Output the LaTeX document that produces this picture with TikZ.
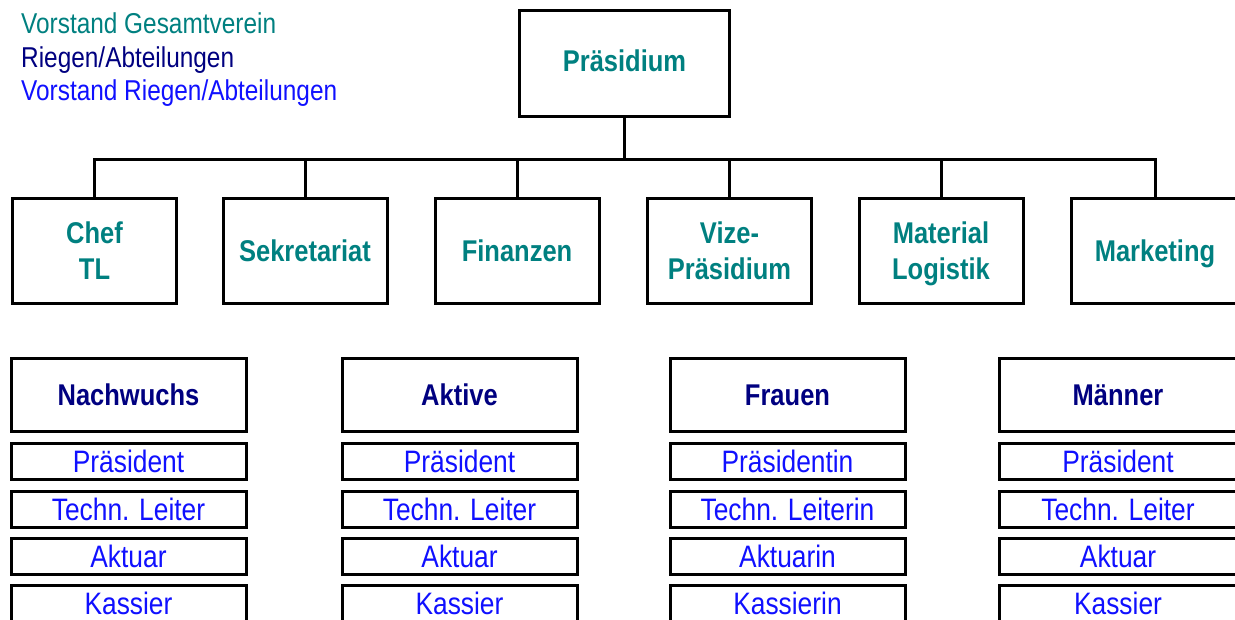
\documentclass[tikz,border=0pt]{standalone}
\usepackage{fontspec}
\setmainfont{Liberation Sans}[FakeStretch=0.85]
\definecolor{tealc}{RGB}{0,128,128}
\definecolor{navyc}{RGB}{0,0,128}
\definecolor{bluec}{RGB}{16,16,255}
\tikzset{
  box/.style={draw=black, line width=3pt, inner sep=0pt, align=center},
  orgbox/.style={box, minimum width=164pt, minimum height=105pt,
    font=\fontsize{30}{36}\selectfont\bfseries, text=tealc},
  oneline/.style={text height=21.5pt, text depth=0pt},
  headbox/.style={box, oneline, minimum width=235pt, minimum height=73pt,
    font=\fontsize{30}{36}\selectfont\bfseries, text=navyc},
  rowbox/.style={box, text height=22.5pt, text depth=0pt, minimum width=235pt, minimum height=36pt,
    font=\fontsize{31}{36}\selectfont, text=bluec},
  legendtxt/.style={anchor=base west, inner sep=0pt, font=\fontsize{28.7}{33}\selectfont},
  link/.style={line width=3pt, line join=miter}
}
\begin{document}
\begin{tikzpicture}[x=1pt,y=-1pt]
\useasboundingbox (0,0) rectangle (1235,619);
% legend
\node[legendtxt, text=tealc] (lg1) at (21,33) {Vorstand Gesamtverein};
\node[legendtxt, text=navyc] (lg2) at (21,67) {Riegen/Abteilungen};
\node[legendtxt, text=bluec] (lg3) at (21,100) {Vorstand Riegen/Abteilungen};
% top box
\node[orgbox, text height=21.5pt, text depth=5pt, minimum width=210pt, minimum height=106pt] (praes) at (624.5,63.5) {Präsidium};
% second row
\node[orgbox, text depth=0pt] (chef) at (94.5,251) {Chef\\TL};
\node[orgbox, oneline] (sekr) at (305,251) {Sekretariat};
\node[orgbox, oneline] (fin) at (517,251) {Finanzen};
\node[orgbox, text depth=0pt] (vize) at (729.5,251) {Vize-\\Präsidium};
\node[orgbox, text depth=0pt] (mat) at (941,251) {Material\\Logistik};
\node[orgbox, oneline, minimum width=167pt] (mkt) at (1155,251) {Marketing};
% connectors
\coordinate (bar) at (624.5,159);
\draw[link] (praes.south) -- (praes.south |- bar);
\draw[link] (chef.north) -- (chef.north |- bar) -- (mkt.north |- bar) -- (mkt.north);
\draw[link] (sekr.north |- bar) -- (sekr.north);
\draw[link] (fin.north |- bar) -- (fin.north);
\draw[link] (vize.north |- bar) -- (vize.north);
\draw[link] (mat.north |- bar) -- (mat.north);
% tables
\node[headbox] (h1) at (128.5,395) {Nachwuchs};
\node[rowbox] (a1) at (128.5,461) {Präsident};
\node[rowbox] (b1) at (128.5,509.5) {Techn. Leiter};
\node[rowbox] (c1) at (128.5,556) {Aktuar};
\node[rowbox] (d1) at (128.5,603) {Kassier};
\node[headbox] (h2) at (459.5,395) {Aktive};
\node[rowbox] (a2) at (459.5,461) {Präsident};
\node[rowbox] (b2) at (459.5,509.5) {Techn. Leiter};
\node[rowbox] (c2) at (459.5,556) {Aktuar};
\node[rowbox] (d2) at (459.5,603) {Kassier};
\node[headbox] (h3) at (787.5,395) {Frauen};
\node[rowbox] (a3) at (787.5,461) {Präsidentin};
\node[rowbox] (b3) at (787.5,509.5) {Techn. Leiterin};
\node[rowbox] (c3) at (787.5,556) {Aktuarin};
\node[rowbox] (d3) at (787.5,603) {Kassierin};
\node[headbox, minimum width=238pt] (h4) at (1118,395) {Männer};
\node[rowbox, minimum width=238pt] (a4) at (1118,461) {Präsident};
\node[rowbox, minimum width=238pt] (b4) at (1118,509.5) {Techn. Leiter};
\node[rowbox, minimum width=238pt] (c4) at (1118,556) {Aktuar};
\node[rowbox, minimum width=238pt] (d4) at (1118,603) {Kassier};
\end{tikzpicture}
\end{document}
